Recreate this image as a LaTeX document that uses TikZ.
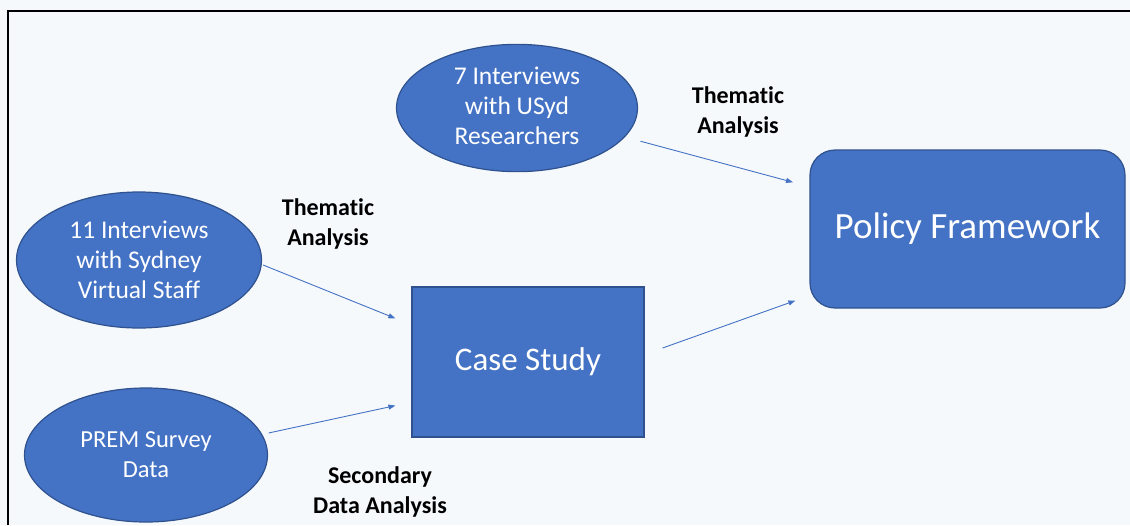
\documentclass[tikz,border=0pt]{standalone}
\usepackage{fontspec}
\setmainfont{Carlito}[Ligatures=NoCommon]
\usetikzlibrary{shapes.geometric,arrows.meta,calc}
\definecolor{bgc}{HTML}{F6F9FC}
\definecolor{fillblue}{HTML}{4472C4}
\definecolor{edgeblue}{HTML}{2F528F}
\begin{document}
\begin{tikzpicture}[x=1pt,y=-1pt,
 bubble/.style={ellipse, draw=edgeblue, fill=fillblue, line width=1.2pt, text=white, align=center, inner sep=0pt, font=\fontsize{25.5}{30}\selectfont},
 boxnode/.style={rectangle, draw=edgeblue, fill=fillblue, line width=1.2pt, text=white, inner sep=0pt},
 lbl/.style={font=\bfseries\fontsize{24}{30}\selectfont, align=center, text=black},
 arr/.style={draw=fillblue, line width=0.9pt, -{Triangle[length=7pt,width=5pt]}}]
\fill[bgc] (0,0) rectangle (1130,525);
\useasboundingbox (0,0) rectangle (1130,525);
\draw[line width=2pt] (8,525) -- (8,11) -- (1130,11);

\node[bubble, minimum width=241pt, minimum height=121pt] (A) at (517,108) {\raisebox{4pt}{\begin{tabular}{@{}c@{}}7 Interviews\\with USyd\\Researchers\end{tabular}}};
\node[bubble, minimum width=245pt, minimum height=136pt] (B) at (139,260) {11 Interviews\\with Sydney\\Virtual Staff};
\node[bubble, minimum width=243pt, minimum height=134pt, font=\fontsize{24.5}{30}\selectfont] (C) at (146,455) {PREM Survey\\Data};
\node[boxnode, minimum width=232pt, minimum height=150pt, font=\fontsize{33}{38}\selectfont] (CS) at (528,362) {Case Study};
\node[boxnode, rounded corners=25pt, minimum width=315pt, minimum height=158pt, font=\fontsize{37}{42}\selectfont] (PF) at (967.5,229) {Policy Framework};

\node[lbl] (t1) at (738,112) {Thematic\\Analysis};
\node[lbl] (t2) at (328,224) {Thematic\\Analysis};
\node[lbl] (t3) at (380,492) {Secondary\\Data Analysis};

\draw[arr, shorten <=16pt, shorten >=17pt] (A) -- (PF);
\draw[arr] ([shift={(1,5)}]B.east) -- ([shift={(-16,32)}]CS.north west);
\draw[arr] ([shift={(0.5,-22)}]C.east) -- ([shift={(-16,-32)}]CS.south west);
\draw[arr] ([shift={(18,-14)}]CS.east) -- ([shift={(-14,-8)}]PF.south west);
\end{tikzpicture}
\end{document}
